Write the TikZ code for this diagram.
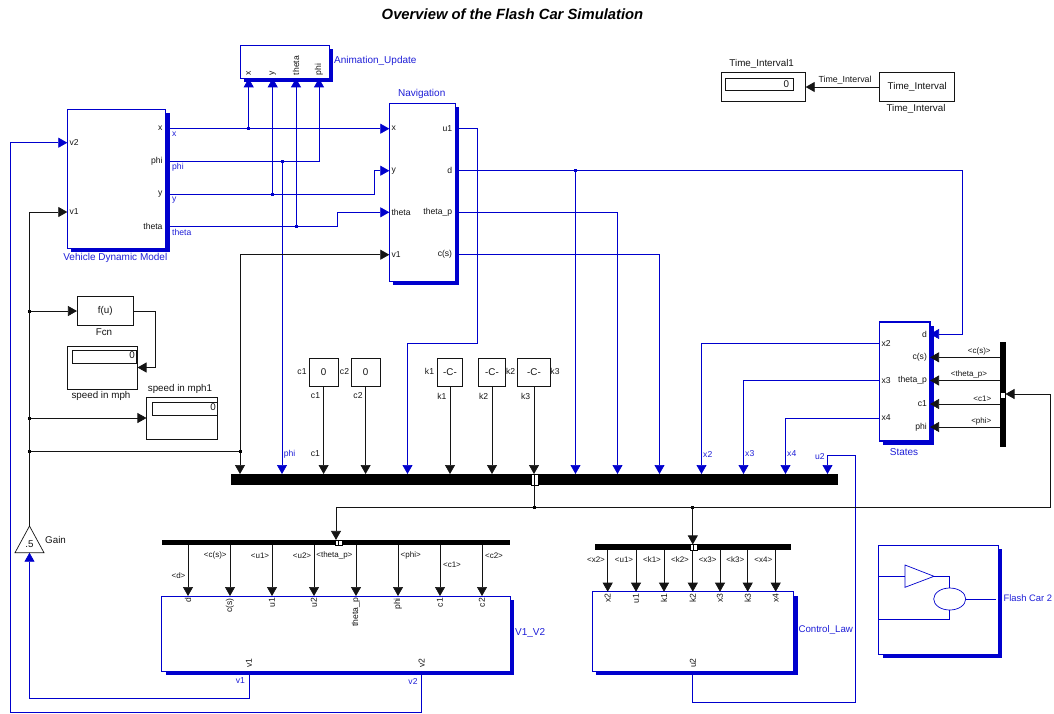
\documentclass[tikz,border=0pt]{standalone}
\usepackage{fontspec}
\setmainfont{Liberation Sans}
\usetikzlibrary{arrows.meta, positioning, calc, shapes.geometric, shadows}
\definecolor{birusim}{RGB}{0,0,205}
\definecolor{biruteks}{RGB}{30,30,215}
\definecolor{hitamsim}{RGB}{20,20,20}
\tikzset{
  blokbiru/.style={rectangle, draw=birusim, fill=white, line width=0.7pt, inner sep=0pt, outer sep=0pt,
    drop shadow={shadow xshift=4pt, shadow yshift=-4pt, fill=birusim, opacity=1}},
  blokhitam/.style={rectangle, draw=hitamsim, fill=white, line width=0.8pt, inner sep=0pt, outer sep=0pt},
  batang/.style={rectangle, fill=black, inner sep=0pt, outer sep=0pt},
  tanda/.style={rectangle, draw=black, fill=white, line width=0.4pt, inner sep=0pt, outer sep=0pt},
  titikbiru/.style={rectangle, fill=birusim, minimum size=3pt, inner sep=0pt, outer sep=0pt},
  titikhitam/.style={rectangle, fill=black, minimum size=3pt, inner sep=0pt, outer sep=0pt},
  kawatbiru/.style={draw=birusim, line width=0.7pt},
  kawathitam/.style={draw=hitamsim, line width=0.7pt},
  tipbiru/.style={kawatbiru, -{Triangle[length=9pt, width=10pt]}},
  tiphitam/.style={kawathitam, -{Triangle[length=9pt, width=10pt]}},
  judul/.style={inner sep=0pt, font=\fontsize{14.8}{16}\selectfont\itshape\bfseries},
  namablok/.style={inner sep=0pt, text=hitamsim, font=\fontsize{9.8}{10}\selectfont},
  namabiru/.style={namablok, text=biruteks, font=\fontsize{10}{11}\selectfont},
  port/.style={inner sep=0pt, text=hitamsim, font=\fontsize{8.6}{9}\selectfont},
  portbiru/.style={port, text=biruteks},
  sinyal/.style={inner sep=0pt, text=hitamsim, font=\fontsize{8}{9}\selectfont},
}
\begin{document}
\begin{tikzpicture}[x=1pt, y=-1pt]
  \useasboundingbox (0,0) rectangle (1054,713);
  \node[judul] (judul) at (512.5,14) {Overview of the Flash Car Simulation};

  % blue blocks
  \foreach \nm/\cx/\cy/\w/\h in {veh/116.5/178.5/98.4/139, anim/284.5/61.8/89/33, nav/422.3/192.2/66/178.3,
      vdua/335.8/633.5/348.4/75, ctl/693/631.3/201.4/79.3, flash/938.5/599.5/119.6/109}
    \node[blokbiru, minimum width=\w pt, minimum height=\h pt] (\nm) at (\cx,\cy) {};
  \node[blokbiru, line width=1.5pt, minimum width=50.7pt, minimum height=119pt] (st) at (904.7,381.5) {};

  % black blocks
  \foreach \nm/\cx/\cy/\w/\h in {fcn/105.2/311/56.5/28.6, mph/102.5/367.5/70/43, mphb/181.7/418.5/70.5/42,
      cone/323.6/372/28.6/28, ctwo/365.6/372/28.6/28, kone/450/372/25/28, ktwo/492/372/27/28, kthr/534/372/33/28,
      tdisp/763.3/87/84.7/28.4, tfrom/917.2/87/75/29.6}
    \node[blokhitam, minimum width=\w pt, minimum height=\h pt] (\nm) at (\cx,\cy) {};
  \foreach \nm/\cx/\cy/\w/\h in {mphin/104/356.8/64/12.5, mphbin/184.5/409/65/12.5, tin/759.5/84.4/67.6/12.7}
    \node[blokhitam, minimum width=\w pt, minimum height=\h pt] (\nm) at (\cx,\cy) {};

  % buses
  \foreach \nm/\cx/\cy/\w/\h in {mbus/534.5/479.5/607/11, busv/336/542.5/348/5.2, busc/692.8/547.2/196.3/5.6, sbar/1002.6/394/5.8/105}
    \node[batang, minimum width=\w pt, minimum height=\h pt] (\nm) at (\cx,\cy) {};
  \foreach \nm/\cx/\cy/\w/\h in {tm/534.5/479.5/7/11, tv/338.5/542.5/7/5.2, tc/693.7/547.2/6.6/5.6, ts/1002.6/395/5.8/5.4}
    \node[tanda, minimum width=\w pt, minimum height=\h pt] (\nm) at (\cx,\cy) {};
  \foreach \nm in {tm,tv,tc}
    \draw[line width=0.5pt] (\nm.north) -- (\nm.south);

  % ports
  \foreach \p/\y in {x/128.7, phi/161.3, y/194, th/226.7}
    \coordinate (veh-\p) at (veh.east |- 0,\y);
  \foreach \p/\y in {v2/142.7, v1/212}
    \coordinate (veh-\p) at (veh.west |- 0,\y);
  \foreach \p/\y in {x/128.7, y/170.7, th/212.3, v1/254.7}
    \coordinate (nav-\p) at (nav.west |- 0,\y);
  \foreach \p/\y in {u1/128.7, d/170.7, tp/212.3, cs/254.7}
    \coordinate (nav-\p) at (nav.east |- 0,\y);
  \foreach \p/\x in {x/248.7, y/272.7, th/296, phi/319}
    \coordinate (anim-\p) at (\x,78.3);
  \foreach \p/\y in {d/334, cs/357.3, tp/380.5, c1/404, phi/427}
    \coordinate (st-\p) at (st.east |- 0,\y);
  \foreach \p/\y in {x2/343.3, x3/380.5, x4/418}
    \coordinate (st-\p) at (st.west |- 0,\y);
  \foreach \nm/\x in {v1/240, phi/282, c1/323.6, c2/365.6, u1/407.5, k1/450, k2/492, k3/534, d/575.5, tp/617.5,
      cs/659.5, x2/701.5, x3/743.5, x4/785.5, u2/827.5}
    \coordinate (bi-\nm) at (\x,474);
  \coordinate (vdua-v1) at (249,671);
  \coordinate (vdua-v2) at (421.6,671);
  \coordinate (ctl-u2) at (692.8,671);
  \coordinate (gain-out) at (29.5,526);
  \coordinate (gain-in) at (29.5,552.7);
  \coordinate (gain-l) at (15,552.7);
  \coordinate (gain-r) at (44,552.7);

  % junctions
  \foreach \nm/\x/\y in {jx/248.7/128.7, jphi/282/161.3, jy/272.7/194, jth/296/226.7, jd/575.5/170.7}
    \node[titikbiru] (\nm) at (\x,\y) {};
  \foreach \nm/\x/\y in {ja/29.5/311, jb/29.5/418, jc/29.5/451.3, jv/240/451.3, jm/534/507, jk/692.8/507}
    \node[titikhitam] (\nm) at (\x,\y) {};

  % blue wires
  \draw[tipbiru] (veh-x) -- (nav-x);
  \draw[tipbiru] (jx) -- (anim-x);
  \draw[tipbiru] (jy) -- (anim-y);
  \draw[tipbiru] (jth) -- (anim-th);
  \draw[tipbiru] (veh-phi) -| (anim-phi);
  \draw[tipbiru] (jphi) -- (bi-phi);
  \draw[tipbiru] (veh-y) -- ++(208.6,0) |- (nav-y);
  \draw[tipbiru] (veh-th) -- ++(171.6,0) |- (nav-th);
  \draw[tipbiru] (nav-u1) -- ++(22,0) -- ++(0,214.3) -| (bi-u1);
  \draw[tipbiru] (nav-d) -- ++(507,0) |- (st-d);
  \draw[tipbiru] (jd) -- (bi-d);
  \draw[tipbiru] (nav-tp) -| (bi-tp);
  \draw[tipbiru] (nav-cs) -| (bi-cs);
  \foreach \p in {x2,x3,x4}
    \draw[tipbiru] (st-\p) -| (bi-\p);
  \draw[tipbiru] (ctl-u2) -- ++(0,31) -- ++(162.2,0) -- ++(0,-247) -| (bi-u2);
  \draw[tipbiru] (vdua-v1) -- ++(0,27) -| (gain-in);
  \draw[tipbiru] (vdua-v2) -- ++(0,41) -- ++(-411,0) |- (veh-v2);

  % black wires
  \draw[kawathitam] (gain-l) -- (gain-out) -- (gain-r) -- cycle;
  \draw[tiphitam] (gain-out) |- (veh-v1);
  \draw[tiphitam] (ja) -- (fcn.west);
  \draw[tiphitam] (jb) -- (jb -| mphb.west);
  \draw[kawathitam] (jc) -- (jv);
  \draw[tiphitam] (jv) -- (bi-v1);
  \draw[tiphitam] (jv) |- (nav-v1);
  \draw[tiphitam] (fcn.east) -- ++(22.2,0) |- (mph.east);
  \draw[tiphitam] (tfrom.west) -- (tdisp.east);
  \foreach \nm/\p in {cone/c1, ctwo/c2, kone/k1, ktwo/k2, kthr/k3}
    \draw[tiphitam] (\nm.south) -- (bi-\p);
  \draw[kawathitam] (jm |- mbus.south) -- (jm);
  \draw[tiphitam] (jm) -| (busv.north);
  \draw[tiphitam] (jk) -- (busc.north);
  \draw[tiphitam] (jm) -- ++(516.7,0) |- (sbar.east);
  \foreach \p in {cs,tp,c1,phi}
    \draw[tiphitam] (sbar.west |- st-\p) -- (st-\p);

  % bus to V1_V2
  \foreach \x/\t/\tx/\ty [count=\c] in {188/d/178.5/576, 230/c(s)/215.3/555.7, 272/u1/260/555.7, 314/u2/302/555.7,
      356/theta\_p/334.4/555.7, 398/phi/410.7/555.7, 440/c1/452/565, 482/c2/494/555.7} {
    \coordinate (vi\c) at (\x,596);
    \draw[tiphitam] (busv.south -| vi\c) -- (vi\c);
    \node[sinyal] (vs\c) at (\tx,\ty) {<\t>};
    \node[port, rotate=90, anchor=east] (vp\c) at (\x,598) {\t};
  }
  % bus to Control_Law
  \foreach \x/\t/\tx [count=\c] in {607.7/x2/596, 636/u1/624, 664/k1/652, 692.8/k2/680, 720/x3/707.7, 747.7/k3/735.3, 775.7/x4/763.3} {
    \coordinate (ci\c) at (\x,591.7);
    \draw[tiphitam] (busc.south -| ci\c) -- (ci\c);
    \node[sinyal] (cs\c) at (\tx,559.3) {<\t>};
    \node[port, rotate=90, anchor=east] (cp\c) at (\x,593.5) {\t};
  }

  % Flash Car 2 icon
  \coordinate (ika) at (905,565);
  \coordinate (ikb) at (905,587.3);
  \coordinate (ikc) at (934,576.3);
  \node[ellipse, draw=birusim, line width=0.7pt, minimum width=32pt, minimum height=22pt, inner sep=0pt, outer sep=0pt] (ikel) at (949.7,599) {};
  \draw[kawatbiru] (ika) -- (ikb) -- (ikc) -- cycle;
  \draw[kawatbiru] (flash.west |- ikc) -- (ikb |- ikc);
  \draw[kawatbiru] (ikc) -| (ikel.north);
  \draw[kawatbiru] (ikel.east) -- ++(30,0);
  \draw[kawatbiru] (flash.west |- 0,619.7) -| (ikel.south);

  % block text
  \node[namabiru] (lveh) at (115.3,257.5) {Vehicle Dynamic Model};
  \node[namabiru, anchor=west] (lanim) at (334,61) {Animation\_Update};
  \node[namabiru] (lnav) at (421.7,93.7) {Navigation};
  \node[namabiru] (lst) at (904,452) {States};
  \node[namabiru, anchor=west] (lvdua) at (515,633) {V1\_V2};
  \node[namabiru, anchor=west, font=\fontsize{9.7}{10}\selectfont] (lctl) at (798.3,630) {Control\_Law};
  \node[namabiru, anchor=west, font=\fontsize{9.4}{10}\selectfont] (lflash) at (1003.3,598) {Flash Car 2};
  \node[namablok] (lfcn) at (104,332) {Fcn};
  \node[namablok] (tfcn) at (fcn.center) {f(u)};
  \node[namablok] (lmph) at (101,396) {speed in mph};
  \node[namablok] (lmphb) at (180,389) {speed in mph1};
  \node[namablok, anchor=east] (vmph) at (135,355) {0};
  \node[namablok, anchor=east] (vmphb) at (216,407) {0};
  \node[namablok] (tgain) at (29.5,544) {.5};
  \node[namablok, anchor=west] (lgain) at (45,540) {Gain};
  \node[namablok] (ltd) at (761.7,64) {Time\_Interval1};
  \node[namablok] (vtd) at (786.3,84.5) {0};
  \node[namablok] (ttf) at (tfrom.center) {Time\_Interval};
  \node[namablok] (ltf) at (916,109) {Time\_Interval};
  \node[sinyal, font=\fontsize{8.8}{9}\selectfont] (stime) at (845,80) {Time\_Interval};

  % constants
  \foreach \nm/\t/\ax/\bx/\bt in {cone/0/302/315.5/c1, ctwo/0/344.5/358/c2, kone/-C-/429.5/441.8/k1, ktwo/-C-/510.7/483.6/k2, kthr/-C-/555/525.7/k3} {
    \node[namablok] (t\nm) at (\nm.center) {\t};
    \node[port] (a\nm) at (\ax,371.5) {\bt};
    \node[port] (b\nm) at (\bx,396) {\bt};
  }
  \node[port] (lbc) at (315.4,454) {c1};

  % port text
  \foreach \nm/\p/\t in {vx/veh-x/x, vphi/veh-phi/phi, vy/veh-y/y, vth/veh-th/theta, nu/nav-u1/u1, nd/nav-d/d, ntp/nav-tp/theta\_p, ncs/nav-cs/c(s),
      sd/st-d/d, scs/st-cs/c(s), stp/st-tp/theta\_p, sc/st-c1/c1, sphi/st-phi/phi}
    \node[port, anchor=east, xshift=-3pt] (p\nm) at (\p) {\t};
  \foreach \nm/\p/\t in {vvb/veh-v2/v2, vva/veh-v1/v1, nx/nav-x/x, ny/nav-y/y, nth/nav-th/theta, nv/nav-v1/v1, sx/st-x2/x2, sy/st-x3/x3, sz/st-x4/x4}
    \node[port, anchor=west, xshift=2pt] (p\nm) at (\p) {\t};
  \foreach \nm/\p/\t in {ax/anim-x/x, ay/anim-y/y, ath/anim-th/theta, aphi/anim-phi/phi, vo/vdua-v1/v1, vt/vdua-v2/v2, cu/ctl-u2/u2}
    \node[port, rotate=90, anchor=west, xshift=3pt] (p\nm) at (\p) {\t};

  % wire text
  \foreach \nm/\x/\y/\t in {wx/172/134/x, wphi/172/167/phi, wy/172/200.5/y, wth/172/232/theta, bphi/283.6/454/phi, bx/703/454/x2, by/745/454/x3, bz/787/454/x4, bu/815/457/u2}
    \node[portbiru, anchor=west] (\nm) at (\x,\y) {\t};
  \node[portbiru] (wvo) at (240.4,681) {v1};
  \node[portbiru] (wvt) at (413,681) {v2};
  \foreach \nm/\x/\y/\t in {xa/979.3/351.7/<c(s)>, xb/969/374.3/<theta\_p>, xc/982.3/398.7/<c1>, xd/981.3/421.7/<phi>}
    \node[sinyal] (\nm) at (\x,\y) {\t};
\end{tikzpicture}
\end{document}
